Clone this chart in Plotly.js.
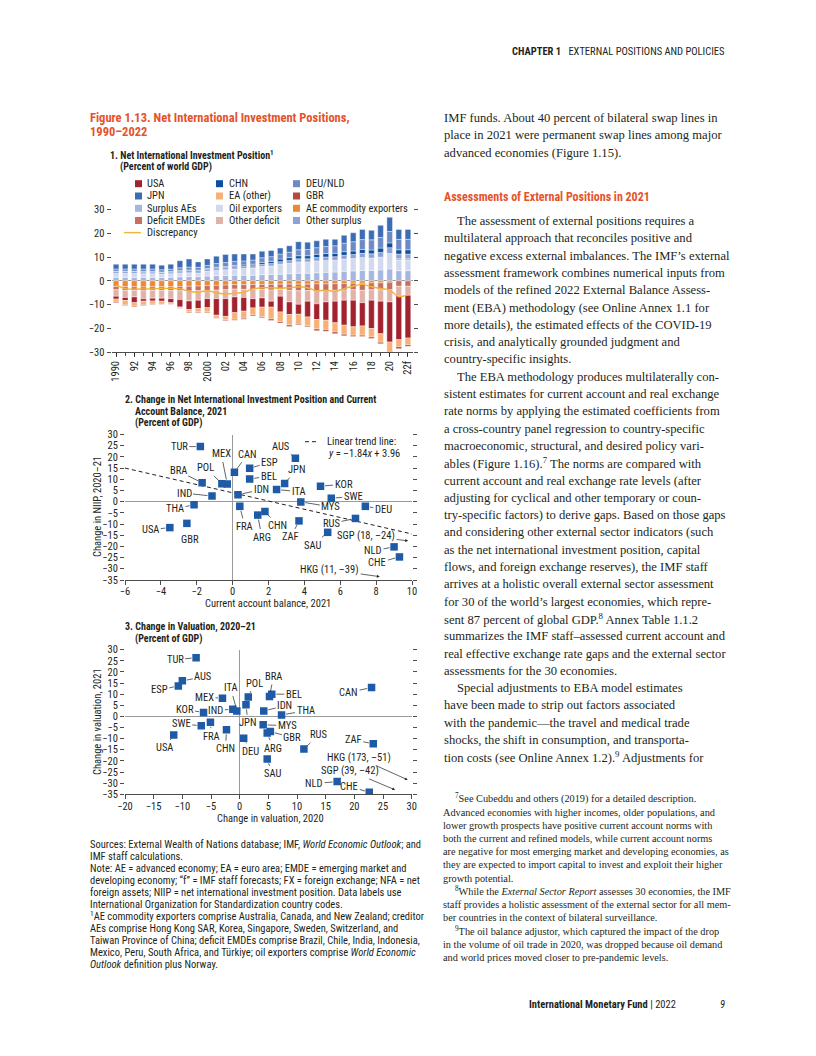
<!DOCTYPE html>
<html><head><meta charset="utf-8">
<script src="https://cdn.plot.ly/plotly-3.0.1.min.js"></script>
<style>html,body{margin:0;padding:0;background:#fff}#chart{width:816px;height:1056px}</style>
</head><body><div id="chart"></div>
<script>
// ---------------- DATA ----------------
const years = [1990,1991,1992,1993,1994,1995,1996,1997,1998,1999,2000,2001,2002,2003,2004,2005,2006,2007,2008,2009,2010,2011,2012,2013,2014,2015,2016,2017,2018,2019,2020,2021,2022];
const yearTickVals = [1990,1992,1994,1996,1998,2000,2002,2004,2006,2008,2010,2012,2014,2016,2018,2020,2022];
const yearTickText = ['1990','92','94','96','98','2000','02','04','06','08','10','12','14','16','18','20','22f'];

const surplusAEs   = [1.5,1.5,1.5,1.5,1.5,1.4,1.5,1.7,1.8,1.8,2.0,2.2,2.3,2.4,2.4,2.4,2.6,2.7,2.8,3.0,3.2,3.2,3.4,3.6,3.7,4.0,4.2,4.4,4.4,4.6,5.0,4.3,4.3];
const oilExporters = [1.6,1.6,1.6,1.5,1.5,1.4,1.5,1.6,1.6,1.5,2.0,2.2,2.4,2.6,2.8,3.0,3.4,3.6,4.2,4.4,4.8,4.8,5.0,5.0,5.0,5.2,5.2,5.4,5.2,5.4,6.5,4.5,4.5];
const aeCommodity  = [-2.4,-2.5,-2.5,-2.6,-2.5,-2.5,-2.5,-2.4,-2.3,-2.2,-2.0,-1.9,-1.8,-1.6,-1.6,-1.5,-1.5,-1.5,-1.4,-1.4,-1.4,-1.4,-1.3,-1.3,-1.2,-1.1,-1.0,-1.0,-0.9,-0.8,-0.6,0.5,0.5];
const otherSurplus = [0.8,0.8,0.8,0.8,0.8,0.8,0.8,0.9,1.0,1.0,1.0,1.1,1.1,1.1,1.0,1.0,1.0,1.0,1.1,1.2,1.3,1.3,1.4,1.5,1.5,1.6,1.7,1.8,1.8,2.0,2.5,2.0,2.0];
const chn          = [0.1,0.1,0.1,0.1,0.1,0.1,0.1,0.2,0.2,0.2,0.2,0.3,0.3,0.4,0.5,0.6,0.8,0.9,1.1,1.2,1.3,1.3,1.4,1.4,1.4,1.5,1.5,1.6,1.6,1.8,2.0,1.8,1.8];
const deuNld       = [1.0,1.0,1.0,1.1,1.1,1.0,1.0,1.1,1.2,1.2,1.3,1.5,1.6,1.7,1.7,1.8,1.9,2.0,2.1,2.3,2.5,2.6,2.8,3.0,3.2,3.6,3.9,4.2,4.3,4.5,4.8,4.4,4.4];
const jpn          = [2.0,2.0,2.0,2.0,2.0,1.9,2.1,3.0,3.4,2.3,2.7,3.1,3.4,3.1,2.9,2.5,2.8,2.6,2.5,2.7,3.4,3.1,2.9,3.0,2.7,3.3,3.8,4.3,4.0,5.1,6.0,4.2,4.2];
const deficitEMDEs = [-1.4,-1.5,-1.5,-1.6,-1.5,-1.5,-1.6,-1.8,-2.0,-2.0,-2.0,-2.0,-2.0,-1.9,-2.0,-2.2,-2.2,-2.4,-2.2,-2.6,-2.8,-2.7,-2.8,-2.8,-2.8,-2.8,-2.8,-3.0,-2.9,-3.0,-3.2,-2.3,-2.3];
const otherDeficit = [-2.7,-3.0,-2.8,-3.4,-3.3,-3.3,-3.4,-3.7,-4.2,-4.0,-3.5,-3.6,-3.7,-3.3,-3.4,-3.8,-3.5,-4.7,-2.9,-4.9,-5.7,-4.5,-5.6,-4.8,-4.6,-4.3,-4.4,-5.2,-4.4,-4.8,-5.1,-4.0,-3.8];
const usa          = [-1.2,-1.3,-2.4,-1.0,-1.2,-1.3,-1.7,-3.1,-3.6,-3.5,-3.8,-7.0,-7.5,-6.6,-5.8,-3.9,-3.9,-2.5,-6.6,-5.3,-4.2,-6.6,-6.6,-7.7,-9.1,-10.5,-11.2,-9.8,-11.9,-13.7,-16.9,-18.5,-18.0];
const eaOther      = [-1.3,-1.8,-1.5,-1.5,-1.2,-1.0,-0.5,-0.4,-1.0,-1.4,-1.8,-1.0,-1.5,-2.8,-3.0,-3.0,-4.0,-5.0,-4.1,-4.4,-3.9,-3.7,-4.0,-4.0,-3.9,-3.8,-3.5,-3.9,-3.6,-3.6,-4.0,-3.0,-2.8];
const gbr          = [-0.3,-0.3,-0.3,-0.3,-0.3,-0.3,-0.2,-0.2,-0.3,-0.3,-0.3,-0.3,-0.3,-0.4,-0.4,-0.4,-0.5,-0.6,-0.6,-0.6,-0.5,-0.5,-0.7,-0.7,-0.7,-0.7,-0.6,-0.6,-0.6,-0.6,-0.7,-0.8,-0.7];
const discrepancy  = [-1.7,-3.3,-3.5,-3.4,-3.4,-3.2,-3.2,-3.3,-4.4,-4.8,-4.2,-5.0,-5.6,-5.2,-4.9,-3.4,-2.9,-2.9,-3.1,-2.9,-2.5,-2.9,-4.2,-3.9,-4.5,-3.3,-2.3,-1.5,-2.5,-3.2,-3.9,-6.7,-5.8];

// Panel 2
const codes2 = ['TUR','MEX','CAN','POL','ESP','BEL','AUS','JPN','BRA','IND','IDN','ITA','KOR','SWE','MYS','DEU','THA','FRA','CHN','ARG','ZAF','RUS','SAU','USA','GBR','NLD','CHE'];
const caBalance2021 = [-1.8,-0.3,0.1,-0.6,0.95,0.95,3.5,2.9,-1.7,-1.15,0.3,2.45,4.9,5.5,3.8,7.4,-2.15,0.4,1.8,1.4,3.7,6.85,5.3,-3.5,-2.55,9.0,9.3];
const niipChange2021 = [24.6,7.9,13.1,8.0,14.9,10.1,19.4,8.1,8.4,2.5,3.1,5.4,6.9,1.5,-0.1,-2.1,-1.4,-2.1,-4.4,-6.0,-8.6,-7.5,-13.7,-11.6,-9.7,-20.2,-24.7];
const trendSlope = [-1.84];
const trendIntercept = [3.96];
const trendX = [-6, 10];
const outliers2 = ['SGP (18, –24)','HKG (11, –39)'];

// Panel 3
const codes3 = ['TUR','AUS','ESP','MEX','ITA','IND','POL','JPN','BRA','BEL','IDN','THA','CAN','KOR','SWE','FRA','CHN','USA','DEU','MYS','GBR','ARG','RUS','ZAF','SAU','NLD','CHE'];
const valuation2020 = [-7.6,-10.0,-10.7,-3.0,-0.5,-1.2,1.5,1.1,5.2,5.6,4.2,7.3,23.0,-6.3,-6.7,-5.1,-2.3,-11.5,0.7,4.1,5.35,4.8,11.2,23.3,4.8,17.0,22.6];
const valuation2021 = [26.4,16.0,13.7,8.2,2.5,3.2,8.7,5.2,9.0,10.0,2.5,0.7,13.0,1.8,-4.2,-2.6,-6.0,-8.3,-9.8,-3.75,-6.8,-7.5,-14.6,-12.3,-19.1,-29.3,-34.1];
const outliers3 = ['HKG (173, –51)','SGP (39, –42)'];

// ---------------- STYLE ----------------
const W = 816, H = 1056;
const SANS = "'Liberation Sans Narrow','Arial Narrow','Roboto Condensed','DejaVu Sans Condensed',sans-serif";
const SERIF = "'Liberation Serif','DejaVu Serif',serif";
const INK = '#231f20';
const ORANGE = '#e5532b';
const BLUE = '#1f5aa6';
const xp = px => px / W;
const yp = py => 1 - py / H;

const seriesStyle = {
  'USA':'#a3222f','CHN':'#0b4f9e','DEU/NLD':'#6d8ac5','JPN':'#3c6db4','EA (other)':'#f7b076','GBR':'#b6483c',
  'Surplus AEs':'#a6b6de','Oil exporters':'#d2d9ee','AE commodity exporters':'#ee8830','Deficit EMDEs':'#c8705d',
  'Other deficit':'#e0b2a8','Other surplus':'#8ea2d6','Discrepancy':'#f1b33c'
};
const stackOrder = [
  ['Surplus AEs', surplusAEs],['Oil exporters', oilExporters],['AE commodity exporters', aeCommodity],
  ['Other surplus', otherSurplus],['CHN', chn],['DEU/NLD', deuNld],['JPN', jpn],
  ['Deficit EMDEs', deficitEMDEs],['Other deficit', otherDeficit],['USA', usa],['EA (other)', eaOther],['GBR', gbr]
];

const traces = [];
stackOrder.forEach(([name, vals]) => {
  traces.push({type:'bar', x: years, y: vals, name, xaxis:'x', yaxis:'y',
    marker:{color: seriesStyle[name], line:{color:'#ffffff', width:0.4}}, showlegend:false, hoverinfo:'skip'});
});
traces.push({type:'scatter', mode:'lines', x: years, y: discrepancy, name:'Discrepancy', xaxis:'x', yaxis:'y',
  line:{color: seriesStyle['Discrepancy'], width:1.4, shape:'spline', smoothing:0.8}, showlegend:false, hoverinfo:'skip'});

// panel 2
traces.push({type:'scatter', mode:'lines', x: trendX, y: trendX.map(v => trendSlope[0]*v + trendIntercept[0]),
  xaxis:'x2', yaxis:'y2', line:{color:INK, width:1, dash:'4px,3px'}, showlegend:false, hoverinfo:'skip'});
traces.push({type:'scatter', mode:'markers', x: caBalance2021, y: niipChange2021, text: codes2, xaxis:'x2', yaxis:'y2',
  marker:{symbol:'square', size:7.5, color:BLUE}, showlegend:false, hoverinfo:'skip'});
// panel 3
traces.push({type:'scatter', mode:'markers', x: valuation2020, y: valuation2021, text: codes3, xaxis:'x3', yaxis:'y3',
  marker:{symbol:'square', size:7.5, color:BLUE}, showlegend:false, hoverinfo:'skip'});

const tickFont = {family:SANS, size:10.5, color:INK};
const baseY = {showgrid:false, ticks:'outside', ticklen:4, tickwidth:0.8, tickcolor:INK, mirror:'ticks',
  showline:false, zeroline:true, zerolinecolor:'#9a9a9a', zerolinewidth:1, tickfont:tickFont, fixedrange:true};
const baseX = {showgrid:false, ticks:'outside', ticklen:4, tickwidth:0.8, tickcolor:INK, showline:true,
  linecolor:INK, linewidth:0.8, tickfont:tickFont, fixedrange:true};

const layout = {
  width:W, height:H, margin:{l:0,r:0,t:0,b:0}, paper_bgcolor:'#fff', plot_bgcolor:'rgba(0,0,0,0)',
  barmode:'relative', bargap:0.38, showlegend:false, font:{family:SANS, color:INK},
  xaxis: Object.assign({}, baseX, {domain:[xp(111.5), xp(412.5)], anchor:'y', range:[1989.5,2022.5],
    tickmode:'array', tickvals:yearTickVals, ticktext:yearTickText, tickangle:-90, zeroline:false,
    minor:{tickmode:'linear', tick0:1990, dtick:1, ticks:'outside', ticklen:3, tickcolor:INK, tickwidth:0.8}}),
  yaxis: Object.assign({}, baseY, {domain:[yp(352), yp(209.7)], anchor:'x', range:[-30,30], tickvals:[-30,-20,-10,0,10,20,30]}),
  xaxis2: Object.assign({}, baseX, {domain:[xp(125), xp(412)], anchor:'y2', range:[-6,10], dtick:2, tick0:-6,
    ticklabelstandoff:-2, zeroline:true, zerolinecolor:'#9a9a9a', zerolinewidth:1}),
  yaxis2: Object.assign({}, baseY, {domain:[yp(580), yp(434.5)], anchor:'x2', range:[-35,30], dtick:5, tick0:-35}),
  xaxis3: Object.assign({}, baseX, {domain:[xp(125), xp(411.7)], anchor:'y3', range:[-20,30], dtick:5, tick0:-20,
    ticklabelstandoff:-2, zeroline:true, zerolinecolor:'#9a9a9a', zerolinewidth:1}),
  yaxis3: Object.assign({}, baseY, {domain:[yp(794.3), yp(649.7)], anchor:'x3', range:[-35,30], dtick:5, tick0:-35}),
  annotations:[], shapes:[]
};
const A = layout.annotations, S = layout.shapes;
function txt(px, py, text, font, opts) {
  A.push(Object.assign({xref:'paper', yref:'paper', x:xp(px), y:yp(py), text, showarrow:false,
    xanchor:'left', yanchor:'middle', font:Object.assign({family:SANS, size:10, color:INK}, font||{})}, opts||{}));
}

// ---- header / footer ----
txt(727, 52, '<b>CHAPTER 1</b>   EXTERNAL POSITIONS AND POLICIES', {size:10.5}, {xanchor:'right'});
txt(678, 1004, '<b>International Monetary Fund</b> | 2022', {size:10.5}, {xanchor:'right'});
txt(727, 1004, '<i>9</i>', {size:10.5}, {xanchor:'right'});

// ---- figure title & panel titles ----
txt(88, 118, '<b>Figure 1.13. Net International Investment Positions,</b>', {size:12.5, color:ORANGE});
txt(88, 131.5, '<b>1990–2022</b>', {size:12.5, color:ORANGE});
txt(107.7, 155, '<b>1. Net International Investment Position<sup>1</sup></b>', {size:10});
txt(118.3, 167, '<b>(Percent of world GDP)</b>', {size:10});
txt(122.7, 399.3, '<b>2. Change in Net International Investment Position and Current</b>', {size:10});
txt(133.3, 411.7, '<b>Account Balance, 2021</b>', {size:10});
txt(133.3, 423.3, '<b>(Percent of GDP)</b>', {size:10});
txt(122.7, 626.7, '<b>3. Change in Valuation, 2020–21</b>', {size:10});
txt(133.3, 639, '<b>(Percent of GDP)</b>', {size:10});

// axis titles
txt(97, 507, 'Change in NIIP, 2020–21', {size:10.5}, {xanchor:'center', textangle:-90});
txt(268, 603.5, 'Current account balance, 2021', {size:10.5}, {xanchor:'center'});
txt(97, 722, 'Change in valuation, 2021', {size:10.5}, {xanchor:'center', textangle:-90});
txt(270, 818, 'Change in valuation, 2020', {size:10.5}, {xanchor:'center'});

// ---- panel 1 legend (manual, compact) ----
const legendCols = [
  {sq:135, tx:145, items:['USA','JPN','Surplus AEs','Deficit EMDEs','Discrepancy']},
  {sq:216, tx:227, items:['CHN','EA (other)','Oil exporters','Other deficit']},
  {sq:293, tx:303.5, items:['DEU/NLD','GBR','AE commodity exporters','Other surplus']}
];
const legendRows = [183.7, 196, 208.3, 220.5, 232.6];
legendCols.forEach(col => col.items.forEach((name, i) => {
  const cy = legendRows[i];
  if (name === 'Discrepancy') {
    S.push({type:'line', xref:'paper', yref:'paper', x0:xp(124), x1:xp(141), y0:yp(cy), y1:yp(cy),
      line:{color:seriesStyle[name], width:1.4}});
  } else {
    S.push({type:'rect', xref:'paper', yref:'paper', x0:xp(col.sq), x1:xp(col.sq+7), y0:yp(cy+3.5), y1:yp(cy-3.5),
      fillcolor:seriesStyle[name], line:{width:0}});
  }
  txt(col.tx, cy, name, {size:10.5});
}));

// ---- panel 2 labels ----
const off2 = {TUR:[-21,0], MEX:[-6,-30], CAN:[13,-18], POL:[-16,-16], ESP:[20,-6], BEL:[19,-3], AUS:[-14,-12], JPN:[12,-14],
  BRA:[-24,-12], IND:[-28,-3], IDN:[23,-5], ITA:[22,2], KOR:[23,-2], SWE:[22,-2], MYS:[30,5], DEU:[18,3], THA:[-19,4],
  FRA:[5,20], CHN:[13,14], ARG:[4,22], ZAF:[-8,16], RUS:[-24,5], SAU:[-15,13], USA:[-19,2], GBR:[3,16], NLD:[-21,4], CHE:[-22,6]};
const noLine2 = {GBR:true};
codes2.forEach((c, i) => {
  A.push({xref:'x2', yref:'y2', x:caBalance2021[i], y:niipChange2021[i], text:c, showarrow:true, arrowhead:0,
    arrowwidth:0.7, arrowcolor: noLine2[c] ? 'rgba(0,0,0,0)' : INK, standoff:4.5, ax:off2[c][0], ay:off2[c][1],
    font:{family:SANS, size:10.5, color:INK}});
});
const outPos2 = [{x:9.78, y:-17.5, ax:-42, ay:-5}, {x:8.2, y:-33.5, ax:-50, ay:-7}];
outliers2.forEach((t, i) => {
  const p = outPos2[i];
  A.push({xref:'x2', yref:'y2', x:p.x, y:p.y, ax:p.ax, ay:p.ay, text:t, showarrow:true, arrowhead:2, arrowsize:0.8,
    arrowwidth:0.7, arrowcolor:INK, font:{family:SANS, size:10.5, color:INK}});
});
// trend legend
S.push({type:'line', xref:'paper', yref:'paper', x0:xp(305), x1:xp(319), y0:yp(441.7), y1:yp(441.7),
  line:{color:INK, width:1, dash:'4px,3px'}});
txt(325, 441.7, 'Linear trend line:', {size:10.5});
txt(325.7, 453.3, '<i>y</i> = –1.84<i>x</i> + 3.96', {size:10.5});

// ---- panel 3 labels ----
const off3 = {TUR:[-21,2], AUS:[21,-4], ESP:[-19,4], MEX:[-18,-1], ITA:[-6,-23], IND:[-17,1], POL:[6,-14], JPN:[2,18],
  BRA:[4,-20], BEL:[22,0], IDN:[21,-5], THA:[24,-4], CAN:[-23,5], KOR:[-19,-3], SWE:[-20,-2], FRA:[1,14], CHN:[-1,19],
  USA:[-9,13], DEU:[7,13], MYS:[24,1], GBR:[22,6], ARG:[6,15], RUS:[15,-14], ZAF:[-20,-4], SAU:[5,15], NLD:[-23,2], CHE:[-20,-6]};
codes3.forEach((c, i) => {
  A.push({xref:'x3', yref:'y3', x:valuation2020[i], y:valuation2021[i], text:c, showarrow:true, arrowhead:0,
    arrowwidth:0.7, arrowcolor:INK, standoff:4.5, ax:off3[c][0], ay:off3[c][1],
    font:{family:SANS, size:10.5, color:INK}});
});
const outPos3 = [{x:29.3, y:-28.5, ax:-49, ay:-22}, {x:27.1, y:-33, ax:-45, ay:-19}];
outliers3.forEach((t, i) => {
  const p = outPos3[i];
  A.push({xref:'x3', yref:'y3', x:p.x, y:p.y, ax:p.ax, ay:p.ay, text:t, showarrow:true, arrowhead:2, arrowsize:0.8,
    arrowwidth:0.7, arrowcolor:INK, font:{family:SANS, size:10.5, color:INK}});
});

// ---- sources & notes ----
const notes = [
  'Sources: External Wealth of Nations database; IMF, <i>World Economic Outlook</i>; and',
  'IMF staff calculations.',
  'Note: AE = advanced economy; EA = euro area; EMDE = emerging market and',
  'developing economy; “f” = IMF staff forecasts; FX = foreign exchange; NFA = net',
  'foreign assets; NIIP = net international investment position. Data labels use',
  'International Organization for Standardization country codes.',
  '<sup>1</sup>AE commodity exporters comprise Australia, Canada, and New Zealand; creditor',
  'AEs comprise Hong Kong SAR, Korea, Singapore, Sweden, Switzerland, and',
  'Taiwan Province of China; deficit EMDEs comprise Brazil, Chile, India, Indonesia,',
  'Mexico, Peru, South Africa, and Türkiye; oil exporters comprise <i>World Economic</i>',
  '<i>Outlook</i> definition plus Norway.'
];
notes.forEach((t, i) => txt(88, 844 + i*12, t, {size:10.5}));

// ---- right column body ----
const bodyFont = {family:SERIF, size:12.6, color:INK};
const para0 = ['IMF funds. About 40 percent of bilateral swap lines in',
  'place in 2021 were permanent swap lines among major',
  'advanced economies (Figure 1.15).'];
para0.forEach((t, i) => txt(442, 118 + i*17.3, t, bodyFont));
txt(442, 197, '<b>Assessments of External Positions in 2021</b>', {size:12, color:ORANGE});
const body = [
  'The assessment of external positions requires a',
  'multilateral approach that reconciles positive and',
  'negative excess external imbalances. The IMF’s external',
  'assessment framework combines numerical inputs from',
  'models of the refined 2022 External Balance Assess-',
  'ment (EBA) methodology (see Online Annex 1.1 for',
  'more details), the estimated effects of the COVID-19',
  'crisis, and analytically grounded judgment and',
  'country-specific insights.',
  'The EBA methodology produces multilaterally con-',
  'sistent estimates for current account and real exchange',
  'rate norms by applying the estimated coefficients from',
  'a cross-country panel regression to country-specific',
  'macroeconomic, structural, and desired policy vari-',
  'ables (Figure 1.16).<sup>7</sup> The norms are compared with',
  'current account and real exchange rate levels (after',
  'adjusting for cyclical and other temporary or coun-',
  'try-specific factors) to derive gaps. Based on those gaps',
  'and considering other external sector indicators (such',
  'as the net international investment position, capital',
  'flows, and foreign exchange reserves), the IMF staff',
  'arrives at a holistic overall external sector assessment',
  'for 30 of the world’s largest economies, which repre-',
  'sent 87 percent of global GDP.<sup>8</sup> Annex Table 1.1.2',
  'summarizes the IMF staff–assessed current account and',
  'real effective exchange rate gaps and the external sector',
  'assessments for the 30 economies.',
  'Special adjustments to EBA model estimates',
  'have been made to strip out factors associated',
  'with the pandemic—the travel and medical trade',
  'shocks, the shift in consumption, and transporta-',
  'tion costs (see Online Annex 1.2).<sup>9</sup> Adjustments for'
];
const indentBody = {0:true, 9:true, 27:true};
body.forEach((t, i) => txt(indentBody[i] ? 455 : 442, 221 + i*17.3, t, bodyFont));

const foot = [
  '<sup>7</sup>See Cubeddu and others (2019) for a detailed description.',
  'Advanced economies with higher incomes, older populations, and',
  'lower growth prospects have positive current account norms with',
  'both the current and refined models, while current account norms',
  'are negative for most emerging market and developing economies, as',
  'they are expected to import capital to invest and exploit their higher',
  'growth potential.',
  '<sup>8</sup>While the <i>External Sector Report</i> assesses 30 economies, the IMF',
  'staff provides a holistic assessment of the external sector for all mem-',
  'ber countries in the context of bilateral surveillance.',
  '<sup>9</sup>The oil balance adjustor, which captured the impact of the drop',
  'in the volume of oil trade in 2020, was dropped because oil demand',
  'and world prices moved closer to pre-pandemic levels.'
];
const indentFoot = {0:true, 7:true, 10:true};
foot.forEach((t, i) => txt(indentFoot[i] ? 453 : 441, 798.9 + i*13.2, t, {family:SERIF, size:10.3, color:INK}));

Plotly.newPlot('chart', traces, layout, {staticPlot:true, displayModeBar:false});
</script></body></html>
